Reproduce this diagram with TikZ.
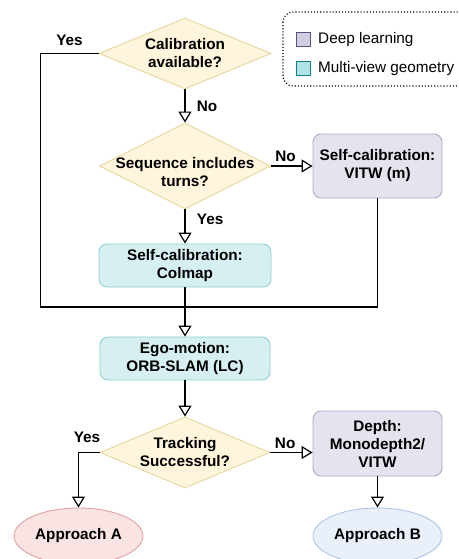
\documentclass[tikz,border=0pt]{standalone}
\usepackage{fontspec}
\setmainfont{Liberation Sans}
\usetikzlibrary{shapes.geometric,arrows.meta}

\definecolor{decfill}{HTML}{FFF5DC}
\definecolor{decdraw}{HTML}{E9D59C}
\definecolor{mvgfill}{HTML}{D6EFF0}
\definecolor{mvgdraw}{HTML}{8DCFD3}
\definecolor{dlfill}{HTML}{E6E3EF}
\definecolor{dldraw}{HTML}{B0A9CA}
\definecolor{afill}{HTML}{FAE3E3}
\definecolor{adraw}{HTML}{E0A19E}
\definecolor{bfill}{HTML}{E9F0FA}
\definecolor{bdraw}{HTML}{ADC5E8}
\definecolor{legdlfill}{HTML}{D0CEE2}
\definecolor{legdldraw}{HTML}{56517E}
\definecolor{legmvgfill}{HTML}{B0E3E6}
\definecolor{legmvgdraw}{HTML}{0E8088}

\tikzset{
  x=1pt, y=-1pt,
  every node/.style={font=\fontsize{15.3}{18}\selectfont},
  txt/.style={font=\fontsize{15.3}{18}\selectfont\bfseries, align=center},
  decision/.style={diamond, draw=decdraw, fill=decfill, line width=0.9pt, inner sep=0pt},
  mvgbox/.style={rectangle, rounded corners=8pt, draw=mvgdraw, fill=mvgfill, line width=0.9pt, txt},
  dlbox/.style={rectangle, rounded corners=8pt, draw=dldraw, fill=dlfill, line width=0.9pt, txt},
  outcome/.style={ellipse, line width=0.9pt, txt, inner sep=0pt},
  conn/.style={line width=1.2pt, draw=black},
  flow/.style={conn, -{Triangle[open, length=11pt, width=13pt, line width=1.2pt]}},
  lbl/.style={txt},
}

\begin{document}
\begin{tikzpicture}
\useasboundingbox (0,0) rectangle (458,559);
\clip (0,0) rectangle (458,559);

% legend
\draw[line width=1.1pt, dotted, rounded corners=10pt] (283,12) rectangle (480,86);
\node[draw=legdldraw, fill=legdlfill, line width=0.9pt, minimum size=14pt, inner sep=0pt] (legdl) at (303.5,39.5) {};
\node[anchor=west, inner sep=0pt] (legdltxt) at (318,40) {Deep learning};
\node[draw=legmvgdraw, fill=legmvgfill, line width=0.9pt, minimum size=14pt, inner sep=0pt] (legmvg) at (303.5,68) {};
\node[anchor=west, inner sep=0pt] (legmvgtxt) at (318,68.5) {Multi-view geometry};

% decisions
\node[decision, minimum width=172pt, minimum height=71pt, label={[txt]center:Calibration\\available?}] (calib) at (185,53.5) {};
\node[decision, minimum width=171pt, minimum height=86pt, label={[txt, yshift=-6pt]center:Sequence includes\\turns?}] (turns) at (185,166) {};
\node[decision, minimum width=170pt, minimum height=71pt, label={[txt]center:Tracking\\Successful?}] (track) at (185,452.5) {};

% processing boxes
\node[dlbox, minimum width=129pt, minimum height=64pt] (vitw) at (377.5,166) {Self-calibration:\\VITW (m)};
\node[mvgbox, minimum width=172pt, minimum height=43pt] (colmap) at (185,265.5) {Self-calibration:\\Colmap};
\node[mvgbox, minimum width=170pt, minimum height=43pt] (ego) at (185,358.5) {Ego-motion:\\ORB-SLAM (LC)};
\node[dlbox, minimum width=129pt, minimum height=65pt] (depth) at (377.5,443.5) {Depth:\\Monodepth2/\\VITW};

% outcomes
\node[outcome, draw=adraw, fill=afill, minimum width=129pt, minimum height=56pt] (appA) at (78.5,536) {Approach A};
\node[outcome, draw=bdraw, fill=bfill, minimum width=129pt, minimum height=56pt] (appB) at (377.5,536) {Approach B};

% connectors
\coordinate (merge) at (185,307);
\draw[flow] (calib.south) -- (turns.north) node[lbl, pos=0.5, right=8pt] (noA) {No};
\draw[conn] (calib.west) -- ++(-58,0) node[lbl, pos=0.5, above=4pt] (yesA) {Yes} |- (merge);
\draw[flow] (turns.east) -- (vitw.west) node[lbl, pos=0.35, above=0pt] (noB) {No};
\draw[flow] (turns.south) -- (colmap.north) node[lbl, pos=0.3, right=8pt] (yesB) {Yes};
\draw[conn] (vitw.south) |- (merge);
\draw[flow] (colmap.south) -- (ego.north);
\draw[flow] (ego.south) -- (track.north);
\draw[flow] (track.west) -| (appA.north);
\node[lbl] (yesC) at (87,437) {Yes};
\draw[flow] (track.east) -- (track.east -| depth.west) node[lbl, pos=0.35, above=0pt] (noC) {No};
\draw[flow] (depth.south) -- (appB.north);
\end{tikzpicture}
\end{document}
